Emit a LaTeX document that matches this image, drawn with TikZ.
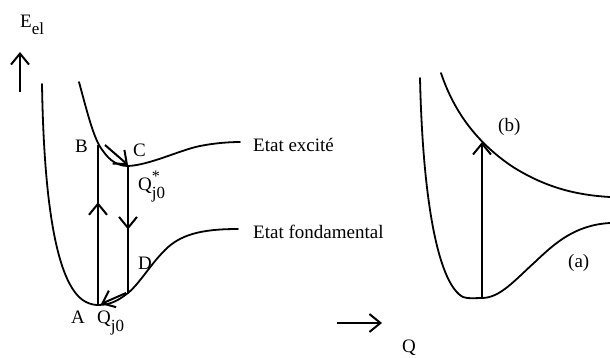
\documentclass[tikz,border=0pt]{standalone}
\usepackage{fontspec}
\setmainfont{Liberation Serif}
\usetikzlibrary{arrows.meta,decorations.markings}
\newcommand\mysub[1]{\raisebox{-8pt}{\fontsize{17}{18}\selectfont #1}}
\newcommand\myelsub[1]{\raisebox{-7pt}{\fontsize{17}{18}\selectfont #1}}
\newcommand\mysupsub[2]{\rlap{\raisebox{9pt}{\fontsize{16}{18}\selectfont #1}}\raisebox{-8pt}{\fontsize{17}{18}\selectfont #2}}
\begin{document}
\begin{tikzpicture}[x=1pt,y=-1pt,
  curve/.style={line width=1.8pt, line cap=round},
  conn/.style={line width=2pt},
  tipbarb/.style={-{Straight Barb[length=11pt,width=18pt,line width=2pt]}},
  midup/.style={postaction=decorate, decoration={markings,
     mark=at position #1 with {\arrow{Straight Barb[length=11pt,width=18pt,line width=2pt]}}}},
  lbl/.style={font=\fontsize{19}{22}\selectfont, inner sep=0pt, anchor=base west}]
\useasboundingbox (0,0) rectangle (610,358);

% left diagram: ground state
\draw[curve] (42,84) .. controls (44,210) and (58,288) .. (86,302)
  .. controls (90,304) and (94,305) .. (98,305)
  .. controls (112,305) and (120,299) .. (128,293)
  .. controls (140,283) and (150,265) .. (165,250)
  .. controls (180,235) and (200,229) .. (238,229);
% left diagram: excited state
\draw[curve] (79,82) .. controls (88,115) and (94,140) .. (103,151)
  .. controls (110,161) and (118,166) .. (128,166)
  .. controls (150,165) and (180,150) .. (200,146)
  .. controls (215,143) and (230,142) .. (240,142);

\coordinate (A) at (98,304);
\coordinate (B) at (98,145);
\coordinate (C) at (128,166);
\coordinate (D) at (128,293);
\coordinate (Bs) at (105,145);
\coordinate (Ce) at (128,165);
\coordinate (Ds) at (126,293);
\coordinate (Ae) at (101,304);

\draw[conn, midup=0.64] (A) -- (B);
\draw[conn, midup=0.5] (C) -- (D);
\draw[conn, tipbarb] (Bs) -- (Ce);
\draw[conn, tipbarb] (Ds) -- (Ae);

% axis arrow
\coordinate (ea0) at (20,92);
\coordinate (ea1) at (20,52);
\draw[conn, tipbarb] (ea0) -- (ea1);
\node[lbl] (eel) at (20,28) {E\myelsub{el}};

\node[lbl] (lB) at (75,153) {B};
\node[lbl] (lC) at (133,157) {C};
\node[lbl] (lQs) at (138,190) {Q\mysupsub{*}{j0}};
\node[lbl] (lD) at (138,269) {D};
\node[lbl] (lA) at (71,323) {A};
\node[lbl] (lQ) at (97,323) {Q\mysub{j0}};
\node[lbl] (lex) at (253,152) {Etat excité};
\node[lbl] (lfo) at (253,238) {Etat fondamental};

% right diagram
\draw[curve] (420,78) .. controls (423,210) and (440,285) .. (463,297)
  .. controls (468,299) and (475,298) .. (482,298)
  .. controls (500,298) and (515,280) .. (535,262)
  .. controls (555,243) and (575,225) .. (610,223);
\draw[curve] (441,73) .. controls (455,115) and (480,145) .. (513,167)
  .. controls (545,187) and (575,195) .. (610,197);
\coordinate (ra0) at (482,298);
\coordinate (ra1) at (482,142);
\draw[conn, tipbarb] (ra0) -- (ra1);
\node[lbl] (lb) at (498,132) {(b)};
\node[lbl] (la) at (568,267) {(a)};

% bottom axis arrow
\coordinate (qa0) at (337,323);
\coordinate (qa1) at (382,323);
\draw[conn, tipbarb] (qa0) -- (qa1);
\node[lbl] (lq) at (402,352) {Q};
\end{tikzpicture}
\end{document}
